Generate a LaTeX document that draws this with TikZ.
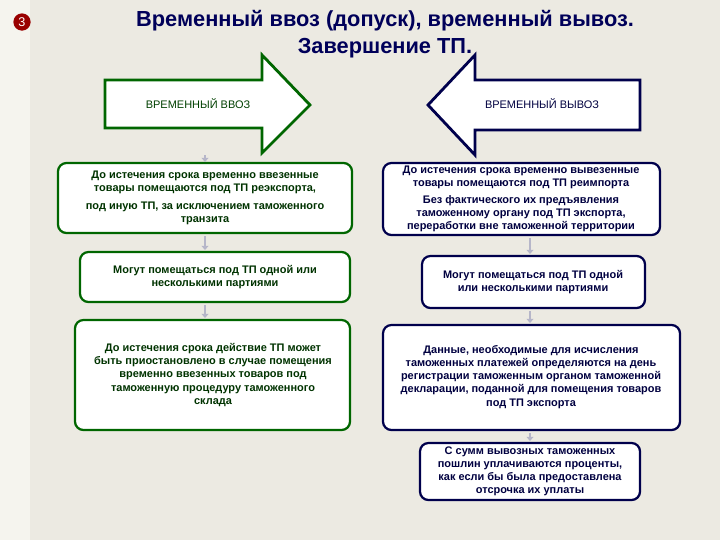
\documentclass[tikz,border=0pt]{standalone}
\usepackage{fontspec}
\setmainfont{Liberation Sans}
\usetikzlibrary{arrows.meta}
\definecolor{bg}{RGB}{236,234,226}
\definecolor{strip}{RGB}{245,244,238}
\begin{document}
\begin{tikzpicture}[x=0.025cm,y=-0.025cm,
  lbox/.style={draw=green!40!black,line width=1.6pt,rounded corners=6pt,fill=white},
  rbox/.style={draw=blue!30!black,line width=1.6pt,rounded corners=6pt,fill=white},
  ltxt/.style={align=center,font=\fontsize{7.8}{9.3}\selectfont\bfseries,text=black!80!green},
  rtxt/.style={align=center,font=\fontsize{7.8}{9.3}\selectfont\bfseries,text=blue!25!black},
  con/.style={-{Triangle[width=5pt,length=3pt]},line width=2pt,draw=blue!15!gray!50}]
\fill[bg] (0,0) rectangle (720,540);
\fill[strip] (0,0) rectangle (30,540);
\node[circle,fill=red!60!black,text=white,inner sep=1.5pt,font=\small] (num) at (22,22) {3};
\node[font=\bfseries\fontsize{15.5}{19}\selectfont,text=blue!35!black,align=center] (title) at (385,34) {Временный ввоз (допуск), временный вывоз.\\Завершение ТП.};
\draw[draw=green!40!black,line width=2pt,fill=white] (105,80)--(262,80)--(262,55)--(310,105)--(262,153)--(262,128)--(105,128)--cycle;
\node[font=\fontsize{7.8}{9}\selectfont,text=green!25!black] (vvoz) at (198,104) {ВРЕМЕННЫЙ ВВОЗ};
\draw[draw=blue!30!black,line width=2pt,fill=white] (640,80)--(475,80)--(475,55)--(428,105)--(475,155)--(475,130)--(640,130)--cycle;
\node[font=\fontsize{7.8}{9}\selectfont,text=blue!25!black] (vyvoz) at (542,104) {ВРЕМЕННЫЙ ВЫВОЗ};
\path[lbox,draw] (58,163) rectangle (352,233);
\node[ltxt] (l1) at (205,198) {До истечения срока временно ввезенные\\товары помещаются под ТП реэкспорта,\\[3pt]под иную ТП, за исключением таможенного\\транзита};
\path[lbox,draw] (80,252) rectangle (350,302);
\node[ltxt] (l2) at (215,277) {Могут помещаться под ТП одной или\\несколькими партиями};
\path[lbox,draw] (75,320) rectangle (350,430);
\node[ltxt] (l3) at (213,375) {До истечения срока действие ТП может\\быть приостановлено в случае помещения\\временно ввезенных товаров под\\таможенную процедуру таможенного\\склада};
\path[rbox,draw] (383,163) rectangle (660,235);
\node[rtxt] (r1) at (521,199) {До истечения срока временно вывезенные\\товары помещаются под ТП реимпорта\\[3pt]Без фактического их предъявления\\таможенному органу под ТП экспорта,\\переработки вне таможенной территории};
\path[rbox,draw] (422,256) rectangle (645,308);
\node[rtxt] (r2) at (533,282) {Могут помещаться под ТП одной\\или несколькими партиями};
\path[rbox,draw] (383,325) rectangle (680,430);
\node[rtxt] (r3) at (531,377) {Данные, необходимые для исчисления\\таможенных платежей определяются на день\\регистрации таможенным органом таможенной\\декларации, поданной для помещения товаров\\под ТП экспорта};
\path[rbox,draw] (420,443) rectangle (640,500);
\node[rtxt] (r4) at (530,471) {С сумм вывозных таможенных\\пошлин уплачиваются проценты,\\как если бы была предоставлена\\отсрочка их уплаты};
\coordinate (a1) at (205,155); \coordinate (a2) at (205,162);
\coordinate (b1) at (205,236); \coordinate (b2) at (205,250);
\coordinate (c1) at (205,305); \coordinate (c2) at (205,318);
\coordinate (d1) at (530,238); \coordinate (d2) at (530,254);
\coordinate (e1) at (530,311); \coordinate (e2) at (530,323);
\coordinate (f1) at (530,433); \coordinate (f2) at (530,441);
\foreach \p/\q in {a1/a2,b1/b2,c1/c2,d1/d2,e1/e2,f1/f2} \draw[con] (\p)--(\q);
\end{tikzpicture}
\end{document}
